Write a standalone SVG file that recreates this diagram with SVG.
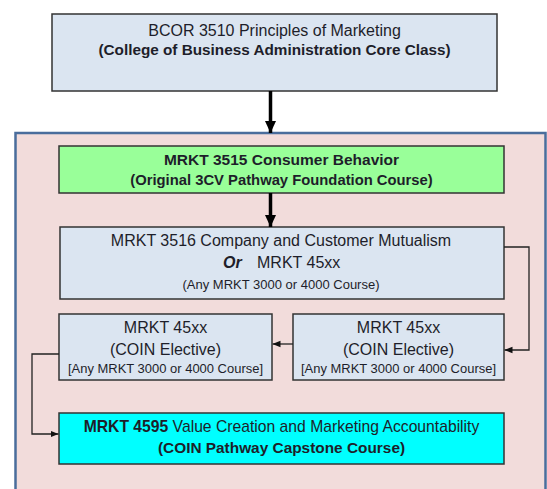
<svg xmlns="http://www.w3.org/2000/svg" width="547" height="489" viewBox="0 0 547 489">
<style>
text{font-family:"Liberation Sans",Arial,sans-serif;fill:#1e1e2a;text-anchor:middle}
text.l{text-anchor:start}
.b{font-weight:bold}
.box{stroke:#333;stroke-width:1.5}
.blue{fill:#dbe5f1}
.thick{stroke:#000;stroke-width:3.5;fill:none}
.thin{stroke:#222;stroke-width:1.3;fill:none}
</style>
<defs>
<marker id="bigHead" markerUnits="userSpaceOnUse" viewBox="0 0 12 12" refX="12" refY="6" markerWidth="12" markerHeight="12" orient="auto">
<path d="M0,0.5 L12,6 L0,11.5 Z" fill="#000"/>
</marker>
<marker id="smallHead" markerUnits="userSpaceOnUse" viewBox="0 0 8 8" refX="8" refY="4" markerWidth="8" markerHeight="8" orient="auto">
<path d="M0,0.8 L8,4 L0,7.2 Z" fill="#111"/>
</marker>
</defs>
<rect width="547" height="489" fill="#fff"/>
<g id="pathway-container">
<rect x="15.5" y="133" width="530" height="380" fill="#f2dcdb" stroke="#4a6d9c" stroke-width="2.5"/>
</g>
<g id="bcor3510">
<rect class="box blue" x="52" y="14" width="445" height="77"/>
<text x="274.5" y="36" font-size="16">BCOR 3510 Principles of Marketing</text>
<text class="b" x="274.5" y="55" font-size="15.3">(College of Business Administration Core Class)</text>
</g>
<g id="mrkt3515">
<rect class="box" x="59" y="146" width="445" height="47" fill="#99ff99"/>
<text class="b" x="281.5" y="165" font-size="15.5">MRKT 3515 Consumer Behavior</text>
<text class="b" x="281.5" y="185" font-size="14.8">(Original 3CV Pathway Foundation Course)</text>
</g>
<g id="mrkt3516">
<rect class="box blue" x="60" y="227" width="444" height="72"/>
<text x="281" y="246" font-size="16">MRKT 3516 Company and Customer Mutualism</text>
<text class="l b" x="223" y="268" font-size="16" font-style="italic">Or</text>
<text class="l" x="257" y="268" font-size="16">MRKT 45xx</text>
<text x="281" y="289" font-size="13">(Any MRKT 3000 or 4000 Course)</text>
</g>
<g id="elective-right">
<rect class="box blue" x="293" y="314" width="211" height="66"/>
<text x="398.5" y="333" font-size="16">MRKT 45xx</text>
<text x="398.5" y="355" font-size="16">(COIN Elective)</text>
<text x="398.5" y="373" font-size="12.5" textLength="195" lengthAdjust="spacingAndGlyphs">[Any MRKT 3000 or 4000 Course]</text>
</g>
<g id="elective-left">
<rect class="box blue" x="59" y="314" width="213" height="66"/>
<text x="165.5" y="333" font-size="16">MRKT 45xx</text>
<text x="165.5" y="355" font-size="16">(COIN Elective)</text>
<text x="165.5" y="373" font-size="12.5" textLength="195" lengthAdjust="spacingAndGlyphs">[Any MRKT 3000 or 4000 Course]</text>
</g>
<g id="mrkt4595">
<rect class="box" x="59" y="413" width="445" height="51" fill="#00ffff"/>
<text x="281.5" y="432" font-size="15.7"><tspan class="b">MRKT 4595</tspan> Value Creation and Marketing Accountability</text>
<text class="b" x="281.5" y="453" font-size="15.4">(COIN Pathway Capstone Course)</text>
</g>
<g id="connectors">
<line class="thick" x1="270.5" y1="91" x2="270.5" y2="133" marker-end="url(#bigHead)"/>
<line class="thick" x1="270.5" y1="193" x2="270.5" y2="227" marker-end="url(#bigHead)"/>
<polyline class="thin" points="504,247 529,247 529,350 504.5,350" marker-end="url(#smallHead)"/>
<line class="thin" x1="293" y1="344" x2="272.5" y2="344" marker-end="url(#smallHead)"/>
<polyline class="thin" points="59,354 32,354 32,434 58.5,434" marker-end="url(#smallHead)"/>
</g>
</svg>
